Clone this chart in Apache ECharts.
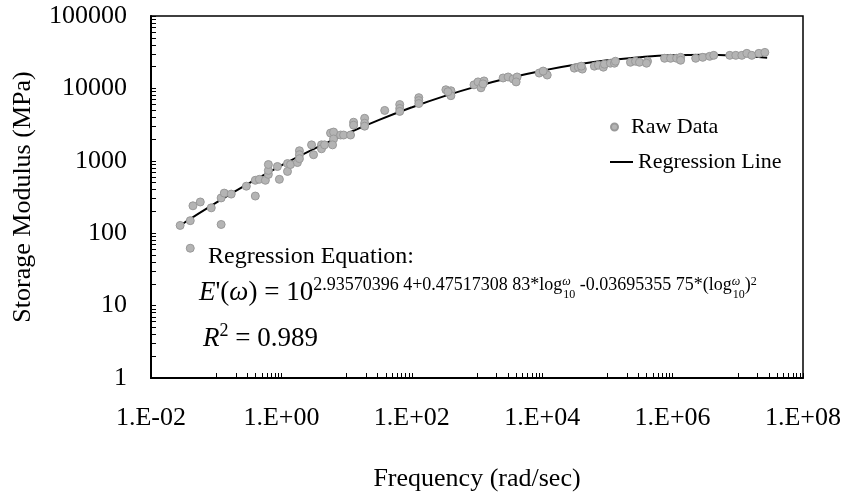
<!DOCTYPE html>
<html>
<head>
<meta charset="utf-8">
<script src="https://cdn.jsdelivr.net/npm/echarts@6/dist/echarts.min.js"></script>
<style>
html,body{margin:0;padding:0;background:#fff;}
#chart{width:846px;height:497px;}
</style>
</head>
<body>
<div id="chart"></div>
<script>
// Raw data: frequency (rad/sec) and storage modulus (MPa)
const rawFrequency = [0.028, 0.040, 0.040, 0.044, 0.057, 0.084, 0.119, 0.119, 0.133, 0.170,
  0.290, 0.398, 0.398, 0.459, 0.568, 0.631, 0.631, 0.631, 0.931, 0.868,
  1.24, 1.24, 1.38, 1.76, 1.89, 1.89, 1.89, 2.90, 3.11, 4.12,
  4.12, 4.59, 5.67, 6.31, 6.31, 6.09, 8.09, 8.99, 11.5, 12.8,
  12.8, 18.9, 18.9, 18.9, 38.4, 65.3, 65.3, 65.3, 128, 128,
  128, 333, 398, 398, 358, 899, 1036, 1152, 1282, 1237,
  2512, 2999, 3581, 4124, 3981, 8995, 10740, 11940, 10350, 31050,
  35810, 41230, 39810, 63100, 72700, 86700, 89950, 111200, 128200, 132800,
  225900, 269800, 310500, 412400, 398100, 753600, 931100, 1153000, 1327000, 1327000,
  2259000, 2897000, 3707000, 4274000, 7536000, 9311000, 11530000, 13750000, 16400000, 21040000, 26000000];
const rawModulus = [128, 149, 62, 239, 270, 224, 132, 307, 358, 347,
  446, 326, 538, 555, 538, 649, 736, 888, 555, 834,
  916, 713, 888, 946, 1376, 1214, 1071, 1660, 1214, 1660,
  1465, 1660, 2417, 2494, 2003, 1660, 2270, 2270, 2270, 3411,
  3104, 3864, 3304, 3008, 4963, 5985, 5285, 4809, 7453, 6787,
  6180, 9575, 9278, 7929, 8990, 11200, 12300, 10190, 12680, 11550,
  13930, 14380, 13500, 14380, 12300, 16290, 16820, 15300, 17340, 19050,
  19650, 18470, 20280, 20280, 20930, 19650, 21580, 22280, 22280, 23710,
  22970, 23710, 22970, 23710, 22280, 26060, 26060, 26060, 26870, 24480,
  26060, 26870, 27730, 28620, 28620, 28620, 28620, 30470, 28620, 30470, 31420];

// Regression line points
const lineFrequency = [0.0282, 0.1, 0.316, 1, 3.16, 10, 31.6, 100, 316, 1000, 3162, 10000, 31623,
  100000, 316228, 1000000, 3162278, 10000000, 28200000];
const lineModulus = [128.9, 265.2, 488.6, 862.6, 1459, 2365, 3675, 5472, 7811, 10682, 14000, 17587, 21170,
  24420, 26997, 28606, 29046, 28265, 26590];

// Tick values
const xTickValues = [0.01, 0.1, 0.2, 0.3, 0.4, 0.5, 0.6, 0.7, 0.8, 0.9, 1,
  10, 20, 30, 40, 50, 60, 70, 80, 90, 100,
  1000, 2000, 3000, 4000, 5000, 6000, 7000, 8000, 9000, 10000,
  100000, 200000, 300000, 400000, 500000, 600000, 700000, 800000, 900000, 1000000,
  10000000, 20000000, 30000000, 40000000, 50000000, 60000000, 70000000, 80000000, 90000000, 100000000];
const yTickValues = [1, 2, 3, 4, 5, 6, 7, 8, 9, 10, 20, 30, 40, 50, 60, 70, 80, 90,
  100, 200, 300, 400, 500, 600, 700, 800, 900, 1000, 2000, 3000, 4000, 5000, 6000, 7000, 8000, 9000,
  10000, 20000, 30000, 40000, 50000, 60000, 70000, 80000, 90000, 100000];

const FONT = '"Liberation Serif", "Times New Roman", serif';

const chart = echarts.init(document.getElementById('chart'), null, {renderer: 'canvas'});

function fmtX(v) {
  const e = Math.round(Math.log10(v));
  const s = String(Math.abs(e)).padStart(2, '0');
  return '1.E' + (e < 0 ? '-' : '+') + s;
}

const eqRich = {
  it: {fontFamily: FONT, fontSize: 27, fontStyle: 'italic', lineHeight: 30, verticalAlign: 'bottom', padding: [10, 0, 0, 0]},
  big: {fontFamily: FONT, fontSize: 27, lineHeight: 30, verticalAlign: 'bottom', padding: [10, 0, 0, 0]},
  sup: {fontFamily: FONT, fontSize: 18, lineHeight: 20, verticalAlign: 'top'},
  sub: {fontFamily: FONT, fontSize: 12, lineHeight: 12, verticalAlign: 'top', padding: [13, 0, 0, 0]},
  sw: {fontFamily: FONT, fontSize: 12, fontStyle: 'italic', lineHeight: 12, verticalAlign: 'top', width: 1, align: 'left'},
  s2: {fontFamily: FONT, fontSize: 12, lineHeight: 12, verticalAlign: 'top'}
};

const option = {
  animation: false,
  backgroundColor: '#fff',
  grid: {left: 151, right: 43, top: 16, bottom: 113, show: true, borderColor: '#000', borderWidth: 1.5, containLabel: false},
  xAxis: {
    type: 'log', logBase: 10, min: 0.01, max: 100000000, interval: 2,
    name: 'Frequency (rad/sec)', nameLocation: 'middle', nameGap: 88,
    nameTextStyle: {fontFamily: FONT, fontSize: 26, color: '#000'},
    axisLine: {lineStyle: {color: '#000', width: 2}},
    axisTick: {inside: true, length: 5, customValues: xTickValues, lineStyle: {color: '#000', width: 1}},
    axisLabel: {formatter: fmtX, fontFamily: FONT, fontSize: 26, color: '#000', margin: 27},
    splitLine: {show: false}, minorTick: {show: false}
  },
  yAxis: {
    type: 'log', logBase: 10, min: 1, max: 100000, interval: 1,
    name: 'Storage Modulus (MPa)', nameLocation: 'middle', nameGap: 115,
    nameTextStyle: {fontFamily: FONT, fontSize: 26, color: '#000'},
    axisLine: {lineStyle: {color: '#000', width: 2}},
    axisTick: {inside: true, length: 5, customValues: yTickValues, lineStyle: {color: '#000', width: 1}},
    axisLabel: {formatter: v => String(Math.round(v)), fontFamily: FONT, fontSize: 26, color: '#000', margin: 24},
    splitLine: {show: false}, minorTick: {show: false}
  },
  legend: [
    {data: [{name: 'Raw Data', icon: 'circle'}], left: 605, top: 111, orient: 'vertical', itemWidth: 23, itemHeight: 7,
     textStyle: {fontFamily: FONT, fontSize: 22, color: '#000'}},
    {data: [{name: 'Regression Line', icon: 'rect'}], left: 605, top: 146, orient: 'vertical', itemWidth: 23, itemHeight: 2,
     textStyle: {fontFamily: FONT, fontSize: 22, color: '#000'}}
  ],
  series: [
    {
      name: 'Regression Line', type: 'line', smooth: true, symbol: 'none',
      lineStyle: {color: '#000', width: 2}, itemStyle: {color: '#000'},
      data: lineFrequency.map((f, i) => [f, lineModulus[i]]), z: 2
    },
    {
      name: 'Raw Data', type: 'scatter', symbol: 'circle', symbolSize: 8,
      itemStyle: {color: '#b4b4b4', borderColor: '#999', borderWidth: 1, opacity: 1},
      data: rawFrequency.map((f, i) => [f, rawModulus[i]]), z: 3
    }
  ],
  graphic: [
    {type: 'text', left: 208, top: 245, style: {text: 'Regression Equation:', font: '24px ' + FONT, fill: '#000'}},
    {type: 'text', x: 199, y: 276, style: {
      text: '{it|E}{big|\'(}{it|ω}{big|) = 10}{sup|2.93570396 4+0.47517308 83*log}{sw|ω}{sub|10}{sup| -0.03695355 75*(log}{sw|ω}{sub|10}{sup|)}{s2|2}',
      verticalAlign: 'top', fill: '#000', rich: eqRich
    }},
    {type: 'text', x: 203, y: 322, style: {
      text: '{it|R}{sup|2}{big| = 0.989}',
      verticalAlign: 'top', fill: '#000', rich: eqRich
    }}
  ]
};
chart.setOption(option);
</script>
</body>
</html>
